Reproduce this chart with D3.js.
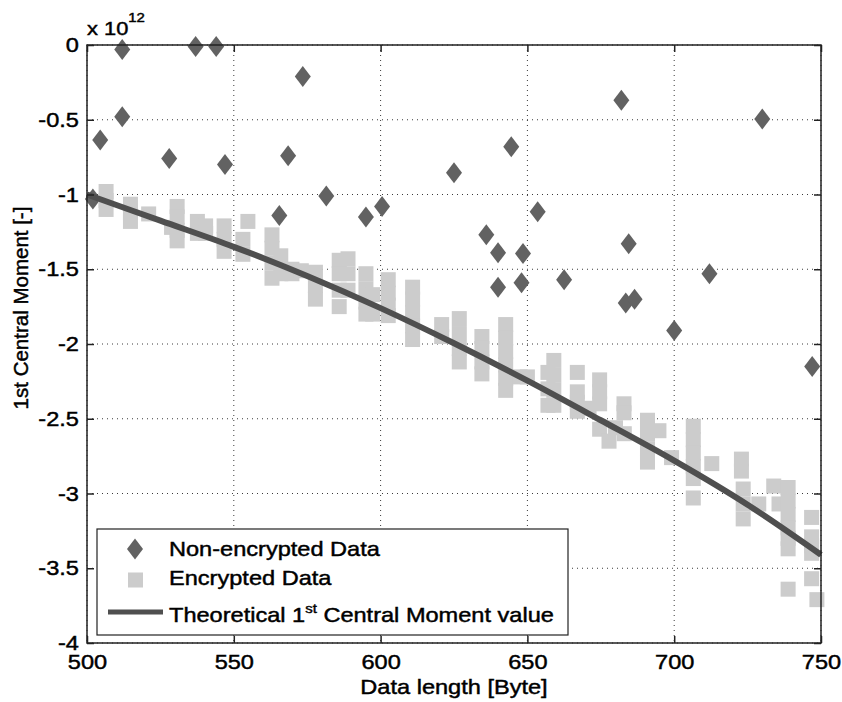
<!DOCTYPE html>
<html>
<head>
<meta charset="utf-8">
<script src="https://cdn.jsdelivr.net/npm/d3@7/dist/d3.min.js"></script>
<style>
    body { margin: 0; background: #ffffff; }
    svg text { font-family: "Liberation Sans", Arial, sans-serif; fill: #000000; stroke: #000000; stroke-width: 0.45px; }
</style>
</head>
<body>
<svg id="chart" width="842" height="702"></svg>
<script>
// Axis ticks
var xTicks = [500, 550, 600, 650, 700, 750];
var yTicks = [0, -0.5, -1, -1.5, -2, -2.5, -3, -3.5, -4];

// Non-encrypted data (diamonds), values in 1e12
var plainX = [502, 504.5, 512, 512, 528, 537, 544, 547, 565.5, 568.5, 573.5, 581.5, 595, 600.5, 625, 636,
    640, 640, 644.5, 648.5, 648, 653.5, 662.5, 682, 683.5, 684.5, 686.5, 700, 712, 730, 747];
var plainY = [-1.03, -0.635, -0.03, -0.48, -0.76, -0.01, -0.01, -0.80, -1.14, -0.74, -0.21, -1.01, -1.15, -1.08, -0.855, -1.27,
    -1.39, -1.62, -0.68, -1.395, -1.59, -1.115, -1.57, -0.37, -1.725, -1.33, -1.70, -1.91, -1.53, -0.495, -2.15];

// Encrypted data (squares), values in 1e12
var encX = [506.5, 506.5, 506.5, 514.8, 514.8, 514.8, 521, 528.8, 530.7, 530.7, 530.7, 530.7,
    537.6, 537.6, 540.4, 540.4, 546.7, 546.7, 546.7, 554.8, 553.1, 553.1,
    563, 563, 563, 563, 566, 566, 569.8, 569.8, 573, 577.8, 577.8, 577.8,
    585.9, 585.9, 585.9, 585.9, 588.9, 588.9, 588.9, 595, 595, 595, 595, 597.3, 597.3,
    602.6, 602.6, 602.6, 602.6, 610.9, 610.9, 610.9, 610.9, 610.9, 620.8, 620.8,
    626.8, 626.8, 626.8, 626.8, 634.5, 634.5, 634.5, 634.5,
    642.6, 642.6, 642.6, 642.6, 642.6, 642.6, 647.5, 650,
    657, 657, 657, 659, 659, 659, 659, 667, 667, 667, 667, 671,
    674.6, 674.6, 674.6, 674.6, 677.8, 680, 682.9, 682.9, 683,
    690.9, 690.9, 690.9, 690.9, 694.8, 699.1,
    706.5, 706.5, 706.5, 706.5, 706.5, 706.5, 712.8,
    722.9, 722.9, 723.5, 723.5, 723.5, 728.8, 733.9, 735.7,
    738.8, 738.8, 738.8, 738.8, 738.8, 738.8, 738.8,
    746.8, 746.8, 746.8, 746.8, 746.8, 748.6];
var encY = [-0.98, -1.04, -1.10, -1.065, -1.12, -1.18, -1.13, -1.22, -1.08, -1.15, -1.24, -1.31,
    -1.18, -1.26, -1.21, -1.26, -1.21, -1.30, -1.38, -1.18, -1.30, -1.40,
    -1.27, -1.36, -1.46, -1.56, -1.41, -1.53, -1.50, -1.53, -1.51, -1.52, -1.61, -1.70,
    -1.44, -1.53, -1.64, -1.75, -1.43, -1.53, -1.64, -1.53, -1.63, -1.72, -1.80, -1.67, -1.80,
    -1.57, -1.66, -1.74, -1.81, -1.62, -1.70, -1.79, -1.88, -1.97, -1.87, -1.95,
    -1.83, -1.93, -2.03, -2.12, -1.95, -2.03, -2.12, -2.20,
    -1.87, -1.96, -2.05, -2.14, -2.23, -2.31, -2.22, -2.22,
    -2.19, -2.30, -2.41, -2.11, -2.21, -2.31, -2.41, -2.19, -2.32, -2.39, -2.45, -2.43,
    -2.24, -2.32, -2.40, -2.57, -2.65, -2.56, -2.40, -2.46, -2.60,
    -2.51, -2.60, -2.70, -2.79, -2.58, -2.76,
    -2.55, -2.64, -2.73, -2.82, -2.90, -3.03, -2.80,
    -2.77, -2.85, -2.97, -3.07, -3.17, -3.07, -2.95, -3.07,
    -2.96, -3.05, -3.14, -3.23, -3.30, -3.37, -3.64,
    -3.16, -3.29, -3.35, -3.40, -3.57, -3.71];

// Theoretical 1st central moment
var theoryX = [500, 525, 550, 575, 600, 625, 650, 675, 700, 725, 750];
var theoryY = [-1.0, -1.175, -1.35, -1.545, -1.76, -1.995, -2.245, -2.51, -2.78, -3.075, -3.41];

// Legend entries
var legendLabels = ["Non-encrypted Data", "Encrypted Data", "Theoretical 1"];

// Chart drawing
class MomentChart {
    // Constructor method
    constructor() {
        this.svg = d3.select("#chart");
        this.x = d3.scaleLinear().domain([500, 750]).range([87, 821]);
        this.y = d3.scaleLinear().domain([-4, 0]).range([643, 45]);
        this.stretch = 1.15;
        this.plainColor = "#626262";
        this.encColor = "#cccccc";
        this.lineColor = "#4f4f4f";
        this.diamond = "M0,-10.5L8,0L0,10.5L-8,0Z";
        this.render();
    }

    // Render everything
    render() {
        this.drawGrid();
        this.drawSeries();
        this.drawAxes();
        this.drawLegend();
    }

    // Dotted grid lines
    drawGrid() {
        var x = this.x, y = this.y;
        var grid = this.svg.append("g")
            .attr("stroke", "#3a3a3a")
            .attr("stroke-width", 1)
            .attr("stroke-dasharray", "1,4");
        grid.selectAll(".vx").data(xTicks).enter().append("line")
            .attr("x1", d => x(d)).attr("x2", d => x(d))
            .attr("y1", y(0)).attr("y2", y(-4));
        grid.selectAll(".hy").data(yTicks).enter().append("line")
            .attr("x1", x(500)).attr("x2", x(750))
            .attr("y1", d => y(d)).attr("y2", d => y(d));
    }

    // Diamonds, squares and theory line
    drawSeries() {
        var x = this.x, y = this.y;
        var plain = d3.zip(plainX, plainY);
        var enc = d3.zip(encX, encY);
        var theory = d3.zip(theoryX, theoryY);

        this.svg.append("g").selectAll("path").data(plain).enter().append("path")
            .attr("d", this.diamond)
            .attr("transform", d => "translate(" + x(d[0]) + "," + y(d[1]) + ")")
            .attr("fill", this.plainColor);

        this.svg.append("g").selectAll("rect").data(enc).enter().append("rect")
            .attr("x", d => x(d[0]) - 7.5)
            .attr("y", d => y(d[1]) - 7.5)
            .attr("width", 15)
            .attr("height", 15)
            .attr("fill", this.encColor);

        var line = d3.line()
            .x(d => x(d[0]))
            .y(d => y(d[1]))
            .curve(d3.curveMonotoneX);
        this.svg.append("path")
            .datum(theory)
            .attr("d", line)
            .attr("fill", "none")
            .attr("stroke", this.lineColor)
            .attr("stroke-width", 6);
    }

    // Box, ticks and labels
    drawAxes() {
        var x = this.x, y = this.y, s = this.stretch;
        var fmt = d => (d == 0 ? "0" : String(d));

        // Bottom axis with labels
        var bottom = this.svg.append("g")
            .attr("transform", "translate(0," + y(-4) + ")")
            .call(d3.axisBottom(x).tickValues(xTicks).tickSizeInner(-7).tickSizeOuter(0).tickPadding(11));
        bottom.selectAll("text").attr("font-size", 20.5).attr("transform", "scale(" + s + ",1)");

        // Left axis with labels
        var left = this.svg.append("g")
            .attr("transform", "translate(" + x(500) + ",0)")
            .call(d3.axisLeft(y).tickValues(yTicks).tickFormat(fmt).tickSizeInner(-7).tickSizeOuter(0).tickPadding(7));
        left.selectAll("text").attr("font-size", 20.5).attr("transform", "scale(" + s + ",1)");

        // Top and right ticks, no labels
        this.svg.append("g")
            .attr("transform", "translate(0," + y(0) + ")")
            .call(d3.axisTop(x).tickValues(xTicks).tickSizeInner(-7).tickSizeOuter(0).tickFormat(""));
        this.svg.append("g")
            .attr("transform", "translate(" + x(750) + ",0)")
            .call(d3.axisRight(y).tickValues(yTicks).tickSizeInner(-7).tickSizeOuter(0).tickFormat(""));

        this.svg.selectAll(".domain").remove();
        this.svg.selectAll(".tick line").attr("stroke", "#222222").attr("stroke-width", 1.5);

        // Axes box
        this.svg.append("rect")
            .attr("x", x(500)).attr("y", y(0))
            .attr("width", x(750) - x(500)).attr("height", y(-4) - y(0))
            .attr("fill", "none")
            .attr("stroke", "#222222")
            .attr("stroke-width", 1.5);

        // Exponent
        var expo = this.svg.append("text")
            .attr("transform", "translate(" + x(500) + ",35) scale(" + s + ",1)")
            .attr("font-size", 19)
            .text("x 10");
        expo.append("tspan").attr("dy", -13).attr("font-size", 13).text("12");

        // Axis titles
        this.svg.append("text")
            .attr("transform", "translate(454,694) scale(" + s + ",1)")
            .attr("text-anchor", "middle")
            .attr("font-size", 20.5)
            .text("Data length [Byte]");
        this.svg.append("text")
            .attr("transform", "translate(28,308) rotate(-90)")
            .attr("text-anchor", "middle")
            .attr("font-size", 20.5)
            .text("1st Central Moment [-]");
    }

    // Legend box
    drawLegend() {
        var s = this.stretch;
        var g = this.svg.append("g");
        g.append("rect")
            .attr("x", 97).attr("y", 529)
            .attr("width", 471).attr("height", 106)
            .attr("fill", "#ffffff")
            .attr("stroke", "#222222")
            .attr("stroke-width", 1.2);

        var rows = [556, 585, 621.5];
        g.append("path")
            .attr("d", this.diamond)
            .attr("transform", "translate(135,549)")
            .attr("fill", this.plainColor);
        g.append("rect")
            .attr("x", 128).attr("y", 572.5)
            .attr("width", 15).attr("height", 15)
            .attr("fill", this.encColor);
        g.append("line")
            .attr("x1", 108).attr("x2", 163)
            .attr("y1", 612).attr("y2", 612)
            .attr("stroke", this.lineColor)
            .attr("stroke-width", 5);

        legendLabels.forEach((label, i) => {
            var t = g.append("text")
                .attr("transform", "translate(169," + rows[i] + ") scale(" + s + ",1)")
                .attr("font-size", 20.5)
                .text(label);
            if (i == 2) {
                t.append("tspan").attr("dy", -9).attr("font-size", 13).text("st");
                t.append("tspan").attr("dy", 9).text(" Central Moment value");
            }
        });
    }
}

new MomentChart();
</script>
</body>
</html>
